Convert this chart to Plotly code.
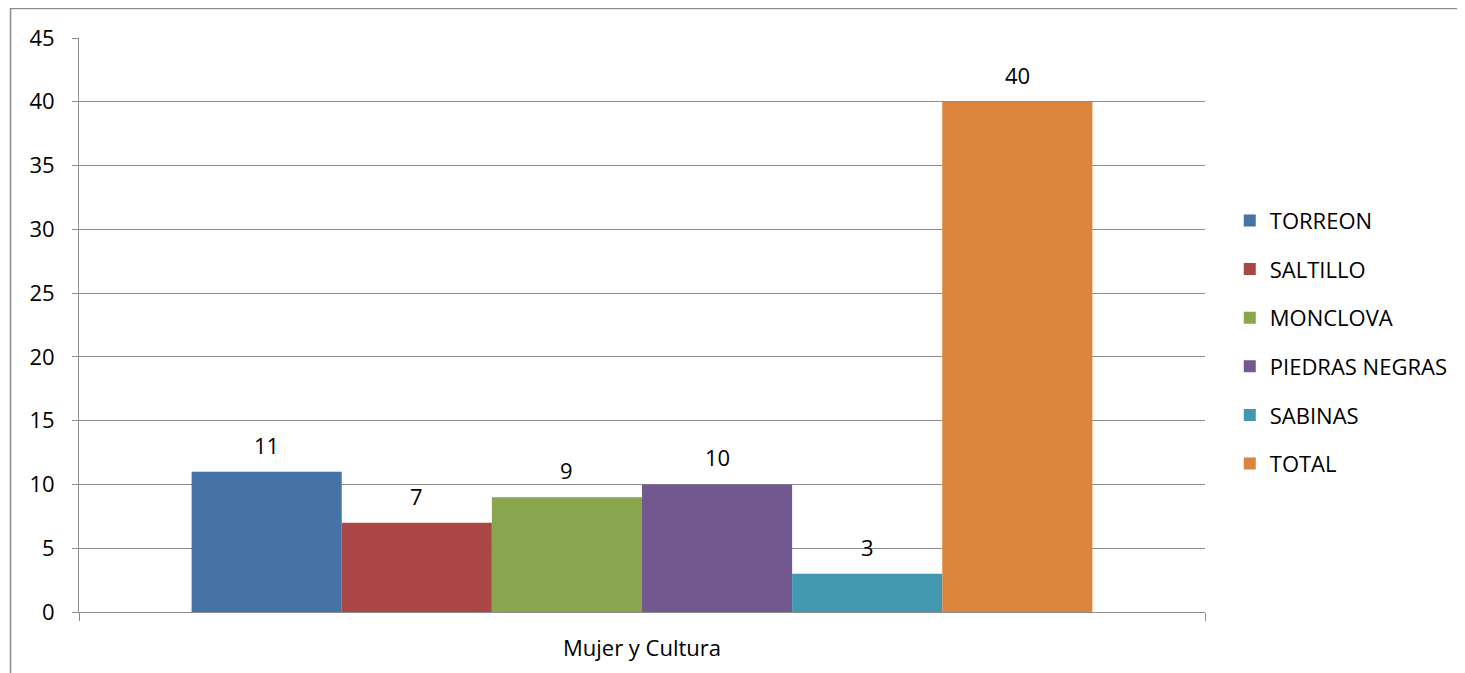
import plotly.graph_objects as go

categories = ["Mujer y Cultura"]
series_names = ["TORREON", "SALTILLO", "MONCLOVA", "PIEDRAS NEGRAS", "SABINAS", "TOTAL"]
series_values = [11, 7, 9, 10, 3, 40]
colors = ["#4572A7", "#AA4643", "#89A54E", "#71588F", "#4198AF", "#DB843D"]
y_ticks = [0, 5, 10, 15, 20, 25, 30, 35, 40, 45]

FONT = "Open Sans"
FS = 22
GRID = "#8c8c8c"

fig = go.Figure()
n = len(series_names)
group_w = 0.8
for i, (name, val, col) in enumerate(zip(series_names, series_values, colors)):
    fig.add_trace(go.Bar(
        x=categories, y=[val], name=name, marker=dict(color=col, line=dict(width=0)),
        legendgroup=name,
    ))
    fig.add_annotation(
        x=-group_w / 2 + (i + 0.5) * group_w / n, y=val, xref="x", yref="y",
        text=str(val), showarrow=False, yshift=27,
        font=dict(family=FONT, size=FS, color="#000000"),
    )

OFF = 8  # page body margin
W, H = 1465, 673
L, R, T, B = 79 - OFF, 1205 - OFF, 38 - OFF, 612 - OFF
fig.update_layout(
    width=W, height=H,
    margin=dict(l=L, r=W - R, t=T, b=H - B, pad=0),
    paper_bgcolor="white", plot_bgcolor="white",
    barmode="group", bargap=0.2, bargroupgap=0,
    font=dict(family=FONT, size=FS, color="#000000"),
    showlegend=True,
    legend=dict(x=1.022, xanchor="left", y=0.47, yanchor="middle",
                font=dict(family=FONT, size=FS, color="#000000"),
                tracegroupgap=17, bgcolor="rgba(0,0,0,0)", traceorder="grouped"),
    xaxis=dict(type="category", showline=True, linecolor=GRID, linewidth=1,
               ticks="outside", tickson="boundaries", ticklen=8, tickcolor=GRID,
               showgrid=False, ticklabelstandoff=17,
               tickfont=dict(family=FONT, size=FS, color="#000000")),
    yaxis=dict(range=[0, 45], tickvals=y_ticks, showline=True, linecolor=GRID, linewidth=1,
               ticks="outside", ticklen=6, tickcolor=GRID,
               showgrid=True, gridcolor=GRID, gridwidth=1, zeroline=False,
               ticklabelstandoff=13,
               tickfont=dict(family=FONT, size=FS, color="#000000")),
)

pw, ph = R - L, B - T
fig.add_shape(type="rect", xref="paper", yref="paper",
              x0=(10.5 - OFF - L) / pw, x1=(W + 20 - L) / pw,
              y0=(B - (H + 20)) / ph, y1=(B - (8.5 - OFF)) / ph,
              line=dict(color="#8c8c8c", width=1.5), fillcolor="rgba(0,0,0,0)", layer="below")

fig.write_html("out.html")
